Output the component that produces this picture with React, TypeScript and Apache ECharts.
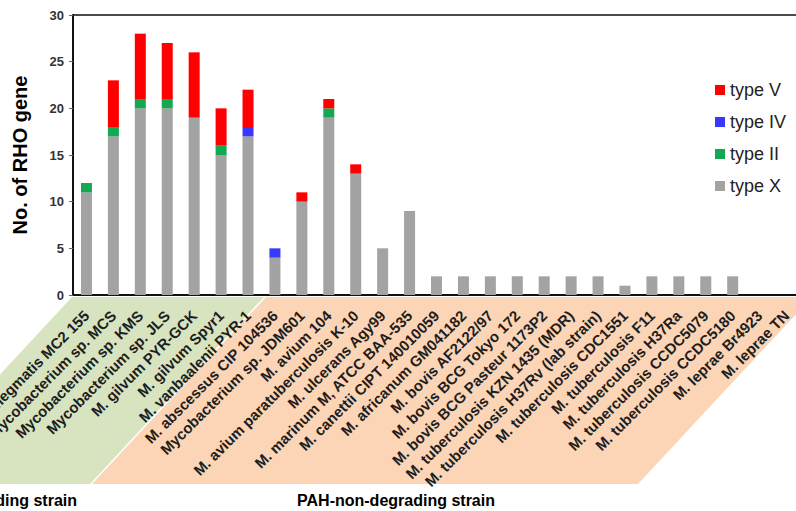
import React, { useEffect, useRef } from "react";
import * as echarts from "echarts";

const categories = [
  "M. smegmatis MC2 155",
  "Mycobacterium sp. MCS",
  "Mycobacterium sp. KMS",
  "Mycobacterium sp. JLS",
  "M. gilvum PYR-GCK",
  "M. gilvum Spyr1",
  "M. vanbaalenii PYR-1",
  "M. abscessus CIP 104536",
  "Mycobacterium sp. JDM601",
  "M. avium 104",
  "M. avium paratuberculosis K-10",
  "M. ulcerans Agy99",
  "M. marinum M, ATCC BAA-535",
  "M. canettii CIPT 140010059",
  "M. africanum GM041182",
  "M. bovis AF2122/97",
  "M. bovis BCG Tokyo 172",
  "M. bovis BCG Pasteur 1173P2",
  "M. tuberculosis KZN 1435 (MDR)",
  "M. tuberculosis H37Rv (lab strain)",
  "M. tuberculosis CDC1551",
  "M. tuberculosis F11",
  "M. tuberculosis H37Ra",
  "M. tuberculosis CCDC5079",
  "M. tuberculosis CCDC5180",
  "M. leprae Br4923",
  "M. leprae TN",
];

const typeX = [11, 17, 20, 20, 19, 15, 17, 4, 10, 19, 13, 5, 9, 2, 2, 2, 2, 2, 2, 2, 1, 2, 2, 2, 2, 0, 0];
const typeII = [1, 1, 1, 1, 0, 1, 0, 0, 0, 1, 0, 0, 0, 0, 0, 0, 0, 0, 0, 0, 0, 0, 0, 0, 0, 0, 0];
const typeIV = [0, 0, 0, 0, 0, 0, 1, 1, 0, 0, 0, 0, 0, 0, 0, 0, 0, 0, 0, 0, 0, 0, 0, 0, 0, 0, 0];
const typeV = [0, 5, 7, 6, 7, 4, 4, 0, 1, 1, 1, 0, 0, 0, 0, 0, 0, 0, 0, 0, 0, 0, 0, 0, 0, 0, 0];

const yTicks = { min: 0, max: 30, interval: 5 };
const legendOrder = ["type V", "type IV", "type II", "type X"];

const FONT = "'Liberation Sans', Arial, sans-serif";

export default function App() {
  const ref = useRef<HTMLDivElement>(null);
  useEffect(() => {
    if (!ref.current) return;
    const chart = echarts.init(ref.current, undefined, { renderer: "svg" });
    const mk = (name: string, data: number[], color: string) => ({
      name,
      type: "bar",
      stack: "rho",
      data,
      barWidth: 11,
      itemStyle: { color },
      emphasis: { disabled: true },
    });
    chart.setOption({
      animation: false,
      textStyle: { fontFamily: FONT },
      grid: {
        left: 73,
        top: 15,
        width: 727,
        height: 280,
        containLabel: false,
        outerBoundsMode: "none",
        show: true,
        borderColor: "#111",
        borderWidth: 1.5,
        backgroundColor: "transparent",
      },
      legend: {
        data: legendOrder,
        orient: "vertical",
        left: 710,
        top: 76,
        itemWidth: 10,
        itemHeight: 10,
        itemGap: 14,
        icon: "rect",
        textStyle: { fontSize: 18, color: "#222", fontFamily: FONT },
      },
      xAxis: {
        type: "category",
        data: categories,
        axisLine: { lineStyle: { color: "#111", width: 2 } },
        axisTick: { length: 3, lineStyle: { color: "#666" } },
        axisLabel: {
          interval: 0,
          rotate: 45,
          margin: 18,
          fontSize: 15,
          fontWeight: "bold",
          color: "#1e1e1e",
          fontFamily: FONT,
        },
      },
      yAxis: {
        type: "value",
        min: yTicks.min,
        max: yTicks.max,
        interval: yTicks.interval,
        name: "No. of RHO gene",
        nameLocation: "middle",
        nameGap: 43,
        nameTextStyle: { fontSize: 20, fontWeight: "bold", color: "#000", fontFamily: FONT },
        axisLine: { show: true, lineStyle: { color: "#111", width: 2 } },
        axisTick: { show: true, length: 4, lineStyle: { color: "#666" } },
        splitLine: { show: false },
        axisLabel: { fontSize: 13, fontWeight: "bold", color: "#333", margin: 9, fontFamily: FONT },
      },
      graphic: [
        {
          type: "polygon",
          z: -10,
          silent: true,
          shape: { points: [[72, 297], [264, 297], [90, 484], [-102, 484]] },
          style: { fill: "#d8e4bf" },
        },
        {
          type: "polygon",
          z: -10,
          silent: true,
          shape: { points: [[266, 297], [812, 297], [638, 484], [92, 484]] },
          style: { fill: "#fbd5b6" },
        },
        {
          type: "text",
          x: 77,
          y: 500,
          style: {
            text: "PAH-degrading strain",
            align: "right",
            verticalAlign: "middle",
            fontSize: 16,
            fontWeight: "bold",
            fill: "#000",
            fontFamily: FONT,
          },
        },
        {
          type: "text",
          x: 396,
          y: 500,
          style: {
            text: "PAH-non-degrading strain",
            align: "center",
            verticalAlign: "middle",
            fontSize: 16,
            fontWeight: "bold",
            fill: "#000",
            fontFamily: FONT,
          },
        },
      ],
      series: [
        mk("type X", typeX, "#a3a3a3"),
        mk("type II", typeII, "#14a853"),
        mk("type IV", typeIV, "#3838ff"),
        mk("type V", typeV, "#ff0000"),
      ],
    });
    return () => chart.dispose();
  }, []);
  return (
    <div
      ref={ref}
      style={{ position: "fixed", left: 0, top: 0, width: 796, height: 511, background: "#fff" }}
    />
  );
}
